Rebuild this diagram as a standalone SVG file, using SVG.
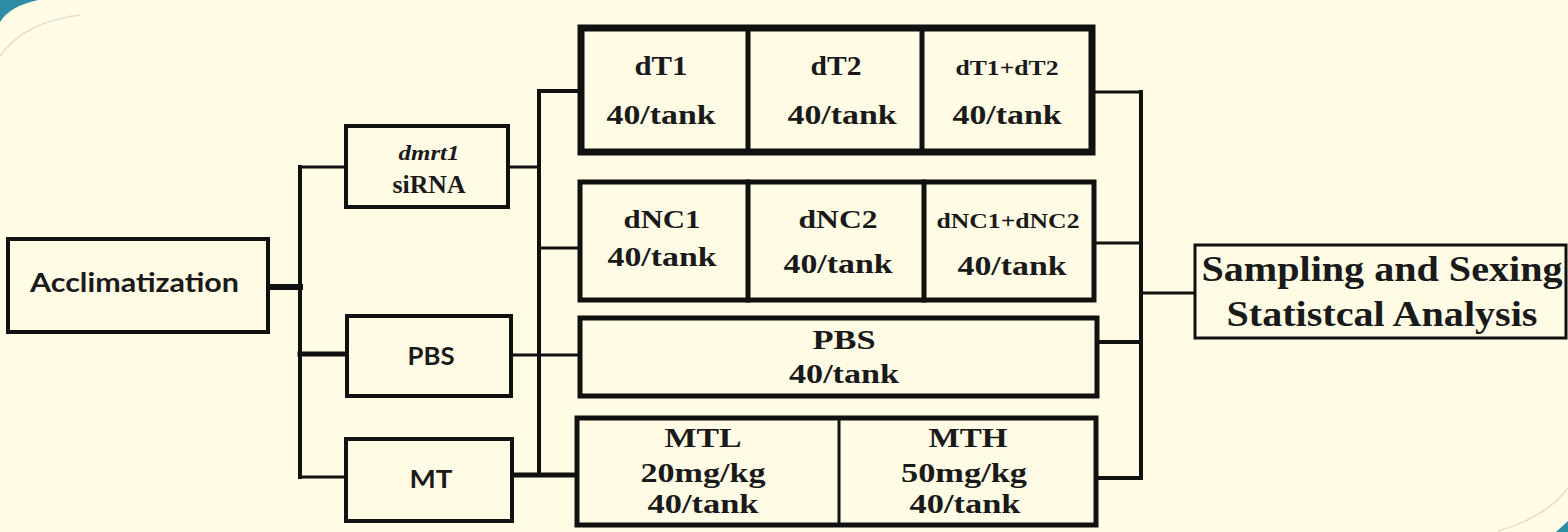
<svg xmlns="http://www.w3.org/2000/svg" width="1568" height="532" viewBox="0 0 1568 532">
<style>
.box{fill:#FFFBE4;stroke:#111;}
.ln{stroke:#111;fill:none;stroke-linecap:square;}
.sans{font-family:Lato,"Open Sans","Liberation Sans",sans-serif;font-weight:bold;fill:#1a1a1a;text-anchor:middle;}
.serif{font-family:"Liberation Serif","DejaVu Serif",serif;font-weight:bold;fill:#1a1a1a;text-anchor:middle;}
</style>
<rect x="0" y="0" width="1568" height="532" fill="#FFFBE4"/>
<path d="M0,0 L38,0 Q10,6 0,22 Z" fill="#2E8DA6"/>
<path d="M0,56 Q24,22 80,15" fill="none" stroke="#E2DFD0" stroke-width="1.5"/>
<path d="M1498,531 Q1545,518 1568,488" fill="none" stroke="#E2DFD0" stroke-width="1.5"/>
<path d="M1568,521 L1568,532 L1556,532 Z" fill="#2E8DA6"/>

<g id="connectors">
<line class="ln" x1="268" y1="287" x2="300" y2="287" stroke-width="6"/>
<line class="ln" x1="300" y1="167" x2="300" y2="477" stroke-width="4"/>
<line class="ln" x1="300" y1="167" x2="346" y2="167" stroke-width="3"/>
<line class="ln" x1="300" y1="354" x2="347" y2="354" stroke-width="5"/>
<line class="ln" x1="300" y1="477" x2="346" y2="477" stroke-width="3"/>
<line class="ln" x1="508" y1="167" x2="539" y2="167" stroke-width="3"/>
<line class="ln" x1="539" y1="91" x2="539" y2="475" stroke-width="4"/>
<line class="ln" x1="539" y1="91" x2="580" y2="91" stroke-width="4"/>
<line class="ln" x1="539" y1="248" x2="580" y2="248" stroke-width="3"/>
<line class="ln" x1="511" y1="355" x2="580" y2="355" stroke-width="3"/>
<line class="ln" x1="512" y1="475" x2="577" y2="475" stroke-width="5"/>
<line class="ln" x1="1092" y1="92" x2="1141" y2="92" stroke-width="3"/>
<line class="ln" x1="1094" y1="243" x2="1141" y2="243" stroke-width="3"/>
<line class="ln" x1="1097" y1="342" x2="1141" y2="342" stroke-width="4"/>
<line class="ln" x1="1096" y1="478" x2="1141" y2="478" stroke-width="4"/>
<line class="ln" x1="1141" y1="92" x2="1141" y2="478" stroke-width="4"/>
<line class="ln" x1="1141" y1="293" x2="1195" y2="293" stroke-width="3"/>
</g>

<g id="acclimatization">
<rect class="box" x="8" y="239" width="260" height="93" stroke-width="4"/>
<text class="sans" x="134.5" y="292" font-size="26" textLength="209" lengthAdjust="spacingAndGlyphs">Acclimatization</text>
</g>

<g id="dmrt1-sirna">
<rect class="box" x="346" y="126" width="162" height="81" stroke-width="4"/>
<text class="serif" x="429" y="160" font-size="21" font-style="italic" textLength="61" lengthAdjust="spacingAndGlyphs">dmrt1</text>
<text class="serif" x="429" y="193" font-size="25" textLength="73" lengthAdjust="spacingAndGlyphs">siRNA</text>
</g>

<g id="pbs-small">
<rect class="box" x="347" y="316" width="164" height="80" stroke-width="4"/>
<text class="sans" x="431" y="365" font-size="25" textLength="47" lengthAdjust="spacingAndGlyphs">PBS</text>
</g>

<g id="mt-small">
<rect class="box" x="346" y="439" width="166" height="82" stroke-width="4"/>
<text class="sans" x="431" y="488" font-size="25" textLength="43" lengthAdjust="spacingAndGlyphs">MT</text>
</g>

<g id="dt-row">
<rect class="box" x="581" y="28" width="511" height="124" stroke-width="7"/>
<line class="ln" x1="748" y1="28" x2="748" y2="152" stroke-width="5"/>
<line class="ln" x1="922" y1="28" x2="922" y2="152" stroke-width="5"/>
<text class="serif" x="661" y="75" font-size="27" textLength="53" lengthAdjust="spacingAndGlyphs">dT1</text>
<text class="serif" x="661" y="124" font-size="27" textLength="109" lengthAdjust="spacingAndGlyphs">40/tank</text>
<text class="serif" x="836" y="75" font-size="27" textLength="51" lengthAdjust="spacingAndGlyphs">dT2</text>
<text class="serif" x="842" y="124" font-size="27" textLength="109" lengthAdjust="spacingAndGlyphs">40/tank</text>
<text class="serif" x="1007" y="75" font-size="20" textLength="103" lengthAdjust="spacingAndGlyphs">dT1+dT2</text>
<text class="serif" x="1007" y="124" font-size="27" textLength="109" lengthAdjust="spacingAndGlyphs">40/tank</text>
</g>

<g id="dnc-row">
<rect class="box" x="580" y="182" width="514" height="118" stroke-width="5"/>
<line class="ln" x1="748" y1="182" x2="748" y2="300" stroke-width="5"/>
<line class="ln" x1="924" y1="182" x2="924" y2="300" stroke-width="5"/>
<text class="serif" x="662" y="228" font-size="26" textLength="77" lengthAdjust="spacingAndGlyphs">dNC1</text>
<text class="serif" x="662" y="266" font-size="27" textLength="109" lengthAdjust="spacingAndGlyphs">40/tank</text>
<text class="serif" x="838" y="228" font-size="26" textLength="79" lengthAdjust="spacingAndGlyphs">dNC2</text>
<text class="serif" x="838" y="273" font-size="27" textLength="109" lengthAdjust="spacingAndGlyphs">40/tank</text>
<text class="serif" x="1008" y="228" font-size="20" textLength="143" lengthAdjust="spacingAndGlyphs">dNC1+dNC2</text>
<text class="serif" x="1012" y="275" font-size="27" textLength="109" lengthAdjust="spacingAndGlyphs">40/tank</text>
</g>

<g id="pbs-wide">
<rect class="box" x="580" y="318" width="517" height="78" stroke-width="5"/>
<text class="serif" x="844" y="349" font-size="28" textLength="63" lengthAdjust="spacingAndGlyphs">PBS</text>
<text class="serif" x="844" y="383" font-size="27" textLength="110" lengthAdjust="spacingAndGlyphs">40/tank</text>
</g>

<g id="mt-row">
<rect class="box" x="577" y="418" width="519" height="107" stroke-width="5"/>
<line class="ln" x1="839" y1="418" x2="839" y2="525" stroke-width="3"/>
<text class="serif" x="703" y="447" font-size="28" textLength="77" lengthAdjust="spacingAndGlyphs">MTL</text>
<text class="serif" x="703" y="482" font-size="28" textLength="125" lengthAdjust="spacingAndGlyphs">20mg/kg</text>
<text class="serif" x="703" y="513" font-size="27" textLength="111" lengthAdjust="spacingAndGlyphs">40/tank</text>
<text class="serif" x="968" y="447" font-size="28" textLength="79" lengthAdjust="spacingAndGlyphs">MTH</text>
<text class="serif" x="964" y="482" font-size="28" textLength="126" lengthAdjust="spacingAndGlyphs">50mg/kg</text>
<text class="serif" x="965" y="513" font-size="27" textLength="111" lengthAdjust="spacingAndGlyphs">40/tank</text>
</g>

<g id="sampling">
<rect class="box" x="1195" y="245" width="371" height="93" stroke-width="3"/>
<text class="serif" x="1382" y="281" font-size="35" textLength="361" lengthAdjust="spacingAndGlyphs">Sampling and Sexing</text>
<text class="serif" x="1382" y="326" font-size="35" textLength="311" lengthAdjust="spacingAndGlyphs">Statistcal Analysis</text>
</g>
</svg>
